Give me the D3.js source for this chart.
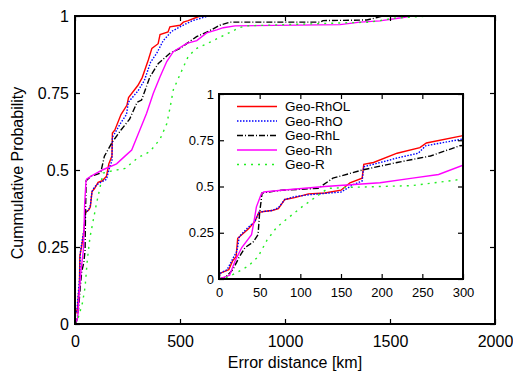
<!DOCTYPE html>
<html>
<head>
<meta charset="utf-8">
<script src="https://cdn.jsdelivr.net/npm/d3@7"></script>
<style>
  body { margin: 0; background: #fff; }
  svg { display: block; font-family: "Liberation Sans", Arial, sans-serif; }
</style>
</head>
<body>
<div id="chart"></div>
<script>
// ========================
// Data (km, cumulative probability)
// ========================
const geoRhOL = [[0,0],[1,0.03],[12,0.05],[17,0.10],[21,0.12],[23,0.22],[36,0.27],[44,0.31],[49,0.36],[55,0.365],[65,0.37],[73,0.38],[81,0.43],[93,0.44],[110,0.46],[130,0.465],[150,0.48],[161,0.52],[176,0.545],[178,0.62],[190,0.63],[219,0.68],[247,0.71],[255,0.735],[300,0.775],[320,0.80],[349,0.857],[366,0.895],[396,0.91],[405,0.94],[443,0.948],[452,0.965],[500,0.97],[516,0.98],[539,0.985],[595,1.0]];
const geoRhO = [[0,0],[1,0.03],[10,0.05],[17,0.11],[22,0.15],[25,0.23],[36,0.28],[44,0.31],[49,0.36],[55,0.365],[65,0.37],[73,0.385],[81,0.43],[93,0.445],[110,0.455],[136,0.465],[150,0.47],[165,0.51],[176,0.53],[178,0.607],[190,0.62],[219,0.654],[245,0.68],[254,0.72],[300,0.757],[330,0.79],[360,0.85],[390,0.88],[420,0.92],[460,0.95],[500,0.965],[560,0.985],[635,1.0]];
const geoRhL = [[0,0],[8,0.01],[17,0.05],[25,0.12],[32,0.17],[42,0.20],[48,0.24],[50,0.36],[53,0.465],[77,0.48],[122,0.49],[140,0.545],[177,0.59],[219,0.63],[260,0.665],[296,0.72],[317,0.727],[357,0.803],[397,0.846],[452,0.879],[500,0.895],[579,0.933],[635,0.95],[690,0.97],[738,0.98],[1167,0.98],[1181,0.985],[1390,0.987],[1438,0.995],[1467,1.0]];
const geoRh = [[0,0],[13,0.02],[20,0.10],[28,0.17],[40,0.24],[43,0.31],[46,0.39],[52,0.46],[55,0.47],[77,0.48],[130,0.50],[198,0.52],[238,0.545],[270,0.565],[300,0.615],[341,0.684],[373,0.749],[405,0.803],[437,0.852],[468,0.884],[532,0.911],[580,0.92],[627,0.945],[675,0.955],[706,0.962],[762,0.968],[1262,0.972],[1357,0.98],[1452,0.984],[1562,0.995],[1600,1.0]];
const geoR = [[0,0],[10,0.01],[20,0.03],[36,0.07],[48,0.12],[59,0.21],[71,0.28],[85,0.33],[102,0.39],[118,0.44],[134,0.49],[160,0.495],[238,0.505],[300,0.54],[357,0.56],[405,0.60],[437,0.65],[452,0.70],[468,0.76],[500,0.81],[540,0.87],[580,0.895],[643,0.915],[738,0.947],[786,0.963],[818,0.968],[1000,0.972],[1400,0.98],[1452,0.985],[1516,0.993],[1690,1.0]];

const seriesNames = ["Geo-RhOL", "Geo-RhO", "Geo-RhL", "Geo-Rh", "Geo-R"];
const seriesValues = [geoRhOL, geoRhO, geoRhL, geoRh, geoR];
const mainXTicks = [0, 500, 1000, 1500, 2000];
const insetXTicks = [0, 50, 100, 150, 200, 250, 300];
const yTicks = [0, 0.25, 0.5, 0.75, 1];

// line styles per series
const styles = [
    { color: "#ff0000", dash: null },
    { color: "#0000ff", dash: "1.5,1.5" },
    { color: "#000000", dash: "6,2,1,2" },
    { color: "#ff00ff", dash: null },
    { color: "#22ee22", dash: "2,5" }
];

// ========================
// Setup
// ========================
const width = 513, height = 374;
const svg = d3.select("#chart").append("svg")
    .attr("width", width).attr("height", height);

function drawPanel(cfg) {
    const { x, y, xTicks, fontSize, padX, padY, id } = cfg;
    const [x0, x1] = x.range();
    const [y0, y1] = y.range();
    const g = svg.append("g");

    g.append("rect")
        .attr("x", x0).attr("y", y1)
        .attr("width", x1 - x0).attr("height", y0 - y1)
        .attr("fill", "#fff");

    g.append("clipPath").attr("id", id)
        .append("rect")
        .attr("x", x0).attr("y", y1)
        .attr("width", x1 - x0).attr("height", y0 - y1);

    const line = d3.line()
        .x(d => x(d[0]))
        .y(d => y(d[1]));

    const lines = g.append("g").attr("clip-path", `url(#${id})`);
    seriesValues.forEach((s, i) => {
        lines.append("path")
            .datum(s)
            .attr("d", line)
            .attr("fill", "none")
            .attr("stroke", styles[i].color)
            .attr("stroke-width", 1.4)
            .attr("stroke-dasharray", styles[i].dash);
    });

    // --- axes, ticks pointing inward ---
    const fmt = d => String(d);
    const axes = [
        [d3.axisBottom(x).tickValues(xTicks).tickFormat(fmt).tickPadding(padX), `translate(0,${y0})`],
        [d3.axisTop(x).tickValues(xTicks).tickFormat(""), `translate(0,${y1})`],
        [d3.axisLeft(y).tickValues(yTicks).tickFormat(fmt).tickPadding(padY), `translate(${x0},0)`],
        [d3.axisRight(y).tickValues(yTicks).tickFormat(""), `translate(${x1},0)`]
    ];
    axes.forEach(([ax, tr]) => {
        const a = g.append("g")
            .attr("transform", tr)
            .call(ax.tickSize(-5).tickSizeOuter(0));
        a.select(".domain").remove();
        a.selectAll("line").attr("stroke", "#000").attr("stroke-width", 1.2);
        a.selectAll("text")
            .attr("fill", "#000")
            .style("font-size", fontSize + "px")
            .style("font-family", "Liberation Sans, Arial, sans-serif");
    });

    g.append("rect")
        .attr("x", x0).attr("y", y1)
        .attr("width", x1 - x0).attr("height", y0 - y1)
        .attr("fill", "none")
        .attr("stroke", "#000")
        .attr("stroke-width", 2);
    return g;
}

// ========================
// Main plot
// ========================
const xMain = d3.scaleLinear().domain([0, 2000]).range([75, 495]);
const yMain = d3.scaleLinear().domain([0, 1]).range([324, 16]);
drawPanel({ x: xMain, y: yMain, xTicks: mainXTicks, fontSize: 16, padX: 12, padY: 6, id: "clip-main" });

svg.append("text")
    .attr("transform", "translate(23,173) rotate(-90)")
    .attr("text-anchor", "middle")
    .style("font-size", "16px")
    .text("Cummulative Probability");

svg.append("text")
    .attr("x", 295).attr("y", 368)
    .attr("text-anchor", "middle")
    .style("font-size", "16px")
    .text("Error distance [km]");

// ========================
// Inset (0-300 km)
// ========================
const xInset = d3.scaleLinear().domain([0, 300]).range([219, 463]);
const yInset = d3.scaleLinear().domain([0, 1]).range([279, 94]);
const inset = drawPanel({ x: xInset, y: yInset, xTicks: insetXTicks, fontSize: 13, padX: 9, padY: 5, id: "clip-inset" });

// --- Legend ---
const legend = inset.append("g");
seriesNames.forEach((name, i) => {
    const ly = 106.5 + i * 14.5;
    legend.append("line")
        .attr("x1", 237).attr("x2", 277)
        .attr("y1", ly).attr("y2", ly)
        .attr("stroke", styles[i].color)
        .attr("stroke-width", 1.4)
        .attr("stroke-dasharray", styles[i].dash);
    legend.append("text")
        .attr("x", 285).attr("y", ly)
        .attr("dy", "0.35em")
        .style("font-size", "13.5px")
        .text(name);
});
</script>
</body>
</html>
